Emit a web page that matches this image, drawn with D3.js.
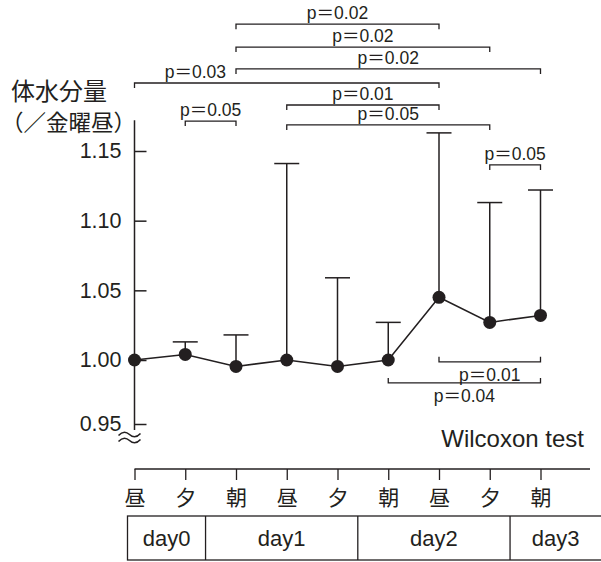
<!DOCTYPE html>
<html>
<head>
<meta charset="utf-8">
<script src="https://cdn.jsdelivr.net/npm/d3@7"></script>
<style>
  body { margin: 0; background: #fff; }
  svg { display: block; }
  text { font-family: "Liberation Sans", "Noto Sans CJK JP", sans-serif; fill: #231f20; }
</style>
</head>
<body>
<svg id="chart" width="601" height="562"></svg>
<script>
// データ
const times = ["昼", "夕", "朝", "昼", "夕", "朝", "昼", "夕", "朝"];
const means = [1.000, 1.004, 0.995, 1.000, 0.995, 1.000, 1.045, 1.027, 1.032];
const upper = [null, 1.013, 1.018, 1.141, 1.059, 1.027, 1.163, 1.113, 1.122];
const yTicks = [0.95, 1.00, 1.05, 1.10, 1.15];

const days = ["day0", "day1", "day2", "day3"];
const dayStart = [0, 2, 5, 8];   // 各日の最初の時点

// 有意差ブラケット (時点のindex, 高さは体水分量の単位)
const bracketFrom  = [2, 2, 2, 0, 3, 1, 3, 7, 6, 5];
const bracketTo    = [6, 7, 8, 6, 6, 2, 7, 8, 8, 8];
const bracketLevel = [1.241, 1.2246, 1.2089, 1.1988, 1.183, 1.1715, 1.1687, 1.140, 0.9986, 0.9821];
const bracketP     = ["0.02", "0.02", "0.02", "0.03", "0.01", "0.05", "0.05", "0.05", "0.01", "0.04"];
const bracketLabelAt = [4, 4.5, 5, 1.2, 4.5, 1.5, 5, 7.5, 7, 6.5];

const ink = "#231f20";
const svg = d3.select("#chart");

const x = d3.scalePoint()
  .domain(d3.range(times.length))
  .range([134.5, 540.5]);
const step = x.step();
const xf = i => x(0) + i * step;   // 小数indexの位置

// 0.95の下で軸が切れているので区分線形
const y = d3.scaleLinear()
  .domain([0.95, 1.00, 1.15])
  .range([424, 360, 151]);

// ---------------- y軸 ----------------
const yAxis = svg.append("g")
  .attr("transform", `translate(${x(0)},0)`)
  .call(d3.axisLeft(y).tickValues(yTicks).tickFormat(d3.format(".2f"))
    .tickSizeInner(-12).tickSizeOuter(0).tickPadding(13));
yAxis.select(".domain").remove();
yAxis.selectAll("line").attr("stroke", ink).attr("stroke-width", 1.5);
yAxis.selectAll("text").attr("font-size", 21.5).attr("font-family", null).attr("fill", ink);

svg.append("line")
  .attr("x1", x(0)).attr("x2", x(0))
  .attr("y1", y(1.172)).attr("y2", 430)
  .attr("stroke", ink).attr("stroke-width", 1.5);

// 省略記号 (≈)
const brk = svg.append("g").attr("fill", "none").attr("stroke", ink).attr("stroke-width", 1.6);
[434.5, 440.5].forEach(yy => {
  brk.append("path")
    .attr("d", `M${x(0) - 16},${yy + 1} q5.5,-6 11,-1 t11,-1`);
});

svg.append("text").attr("x", 11).attr("y", 100).attr("font-size", 24).text("体水分量");
svg.append("text").attr("x", 1).attr("y", 131).attr("font-size", 22.5).text("（／金曜昼）");

// ---------------- エラーバー ----------------
const bars = svg.append("g").attr("stroke", ink).attr("stroke-width", 1.5);
times.forEach((t, i) => {
  if (upper[i] == null) return;
  bars.append("line")
    .attr("x1", x(i)).attr("x2", x(i))
    .attr("y1", y(means[i])).attr("y2", y(upper[i]));
  bars.append("line")
    .attr("x1", x(i) - 12.5).attr("x2", x(i) + 12.5)
    .attr("y1", y(upper[i])).attr("y2", y(upper[i]));
});

// ---------------- 折れ線と点 ----------------
svg.append("path")
  .datum(means)
  .attr("fill", "none")
  .attr("stroke", ink)
  .attr("stroke-width", 1.5)
  .attr("d", d3.line().x((d, i) => x(i)).y(d => y(d)));

svg.append("g")
  .selectAll("circle")
  .data(means)
  .join("circle")
    .attr("cx", (d, i) => x(i))
    .attr("cy", d => y(d))
    .attr("r", 6.5)
    .attr("fill", ink);

// ---------------- ブラケット ----------------
const br = svg.append("g");
bracketP.forEach((p, k) => {
  const x1 = x(bracketFrom[k]), x2 = x(bracketTo[k]);
  const yy = y(bracketLevel[k]);
  const below = bracketLevel[k] < 1;
  const tick = below ? -5 : 5;
  br.append("path")
    .attr("d", `M${x1},${yy + tick}V${yy}H${x2}V${yy + tick}`)
    .attr("fill", "none")
    .attr("stroke", ink)
    .attr("stroke-width", 1.3);
  br.append("text")
    .attr("x", xf(bracketLabelAt[k]))
    .attr("y", below ? yy + 19 : yy - 5)
    .attr("text-anchor", "middle")
    .attr("font-size", 17.5)
    .text("p＝" + p);
});

svg.append("text")
  .attr("x", 584).attr("y", 447)
  .attr("text-anchor", "end")
  .attr("font-size", 24)
  .text("Wilcoxon test");

// ---------------- x軸 ----------------
const xAxis = svg.append("g")
  .attr("transform", "translate(0,469)")
  .call(d3.axisBottom(x).tickFormat(i => times[i])
    .tickSizeInner(11).tickSizeOuter(0).tickPadding(10));
xAxis.select(".domain").remove();
xAxis.selectAll("line").attr("stroke", ink).attr("stroke-width", 1.3);
xAxis.selectAll("text").attr("font-size", 21).attr("font-family", null).attr("fill", ink);

svg.append("line")
  .attr("x1", x(0)).attr("x2", 590)
  .attr("y1", 469).attr("y2", 469)
  .attr("stroke", ink).attr("stroke-width", 1.3);

// ---------------- 日付の表 ----------------
const tableTop = 516, tableBottom = 560, tableLeft = x(0) - 7, tableRight = 606;
const dividers = dayStart.slice(1).map(s => x(s) - step * 0.6);
const edges = [tableLeft, ...dividers, 601];

const table = svg.append("g");
table.append("rect")
  .attr("x", tableLeft).attr("y", tableTop)
  .attr("width", tableRight - tableLeft).attr("height", tableBottom - tableTop)
  .attr("fill", "none").attr("stroke", ink).attr("stroke-width", 1.3);
table.selectAll("line")
  .data(dividers)
  .join("line")
    .attr("x1", d => d).attr("x2", d => d)
    .attr("y1", tableTop).attr("y2", tableBottom)
    .attr("stroke", ink).attr("stroke-width", 1.3);
table.selectAll("text")
  .data(days)
  .join("text")
    .attr("x", (d, i) => (edges[i] + edges[i + 1]) / 2)
    .attr("y", 546)
    .attr("text-anchor", "middle")
    .attr("font-size", 22)
    .text(d => d);
</script>
</body>
</html>
